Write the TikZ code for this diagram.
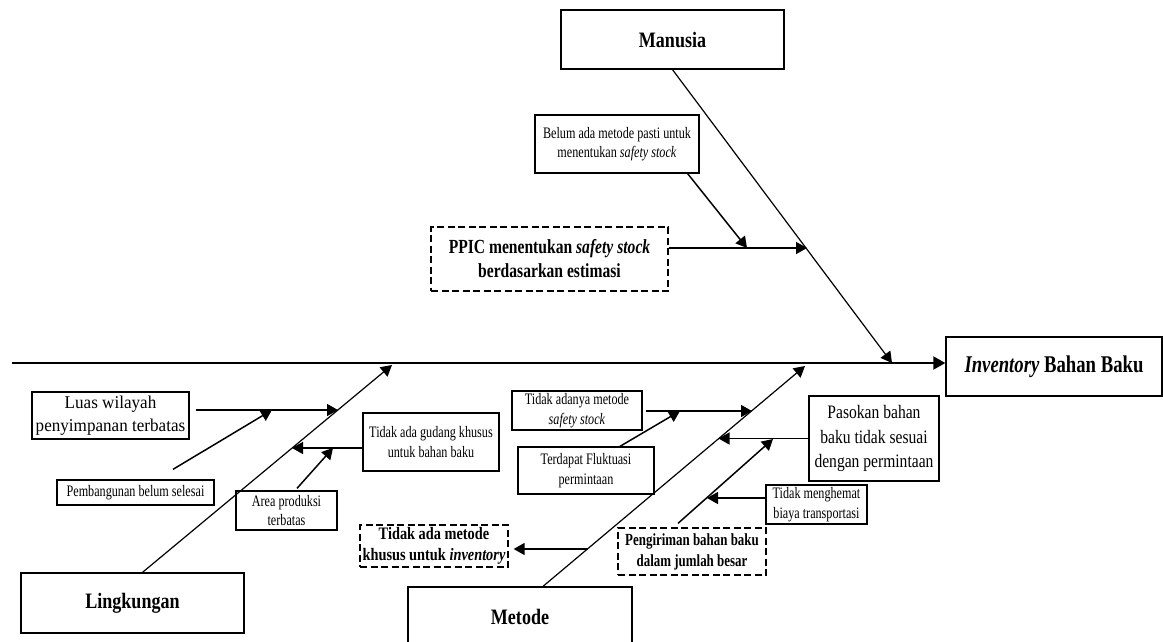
\documentclass[tikz,border=0pt]{standalone}
\usepackage{fontspec}
\setmainfont{Liberation Serif}
\newfontfamily\tnrA{Liberation Serif}[FakeStretch=0.76]
\newfontfamily\tnrB{Liberation Serif}[FakeStretch=0.82]
\newfontfamily\tnrC{Liberation Serif}[FakeStretch=0.95]
\newfontfamily\tnrD{Liberation Serif}[FakeStretch=0.78]
\usetikzlibrary{arrows.meta}
\begin{document}
\begin{tikzpicture}[x=1pt,y=-1pt,
  box/.style={draw,line width=1.3pt,inner sep=0pt,align=center},
  dbox/.style={box,dash pattern=on 7pt off 3.5pt},
  cat/.style={box,font=\tnrB\bfseries\fontsize{22}{26}\selectfont},
  small/.style={box,font=\tnrA\fontsize{16}{19.5}\selectfont},
  tip/.style={-{Triangle[length=11pt,width=12pt]}},
  bone/.style={line width=1.2pt,tip},
  arr/.style={line width=1.5pt,tip},
  spine/.style={line width=2pt,-{Triangle[length=12pt,width=13pt]}}]
\useasboundingbox (0,0) rectangle (1163,641);

% effect and main categories
\node[box,minimum width=216pt,minimum height=59pt,
      font=\tnrD\bfseries\fontsize{24}{28}\selectfont] (inv) at (1054,366.5) {\textit{Inventory} Bahan Baku};
\node[cat,minimum width=223pt,minimum height=59pt] (man) at (672.5,39.5) {Manusia};
\node[cat,minimum width=223pt,minimum height=60pt] (ling) at (132.5,603) {Lingkungan};
\node[cat,minimum width=224pt,minimum height=60pt] (met) at (520,617) {Metode};

% causes: Manusia
\node[small,minimum width=164pt,minimum height=58pt] (belum) at (617,144)
  {Belum ada metode pasti untuk\\menentukan \textit{safety stock}};
\node[dbox,minimum width=237pt,minimum height=64pt,
      font=\tnrD\bfseries\fontsize{20}{24}\selectfont] (ppic) at (549.5,259)
  {PPIC menentukan \textit{safety stock}\\berdasarkan estimasi};

% causes: Lingkungan
\node[box,minimum width=157pt,minimum height=47pt,
      font=\tnrC\fontsize{18}{23}\selectfont] (luas) at (110.5,415.5)
  {Luas wilayah\\penyimpanan terbatas};
\node[small,minimum width=157pt,minimum height=25pt] (pemb) at (135.5,492.5)
  {Pembangunan belum selesai};
\node[small,minimum width=136pt,minimum height=58pt] (gud) at (431,442)
  {Tidak ada gudang khusus\\untuk bahan baku};
\node[small,minimum width=101pt,minimum height=39pt] (area) at (286.5,510.5)
  {Area produksi\\terbatas};

% causes: Metode
\node[small,minimum width=130pt,minimum height=39pt] (adanya) at (577,410.5)
  {Tidak adanya metode\\\textit{safety stock}};
\node[small,minimum width=136pt,minimum height=47pt] (fluk) at (586,470.5)
  {Terdapat Fluktuasi\\permintaan};
\node[box,minimum width=130pt,minimum height=85pt,
      font=\tnrB\fontsize{19}{24.5}\selectfont] (pas) at (874,438.5)
  {Pasokan bahan\\baku tidak sesuai\\dengan permintaan};
\node[small,minimum width=101pt,minimum height=39pt] (hemat) at (816.5,504.5)
  {Tidak menghemat\\biaya transportasi};
\node[dbox,minimum width=148pt,minimum height=47pt,
      font=\tnrA\bfseries\fontsize{17}{21}\selectfont] (kirim) at (692,551.5)
  {Pengiriman bahan baku\\dalam jumlah besar};
\node[dbox,minimum width=148pt,minimum height=42pt,
      font=\tnrB\bfseries\fontsize{17.5}{21}\selectfont] (khusus) at (434,546)
  {Tidak ada metode\\khusus untuk \textit{inventory}};

% points where bones meet
\coordinate (s0) at (12,363);
\coordinate (m1) at (892,363);
\coordinate (m2) at (807,248);
\coordinate (m3) at (747,248);
\coordinate (l1) at (392,365);
\coordinate (l2) at (338,410);
\coordinate (l3) at (272,410);
\coordinate (l4) at (292,448);
\coordinate (l5) at (333,448);
\coordinate (k1) at (805,366);
\coordinate (k2) at (752,411);
\coordinate (k3) at (680,411);
\coordinate (k4) at (718.5,438.5);
\coordinate (k5) at (773,439);
\coordinate (k6) at (707,498);
\coordinate (k7) at (588,549);

% main spine
\draw[spine] (s0) -- (s0 -| inv.west);

% Manusia
\draw[bone] (man.south) -- (m1);
\draw[arr] ([yshift=11pt]ppic.east) -- (m2);
\draw[arr] ([xshift=-12pt]belum.south east) -- (m3);

% Lingkungan
\draw[bone] ([xshift=10pt]ling.north) -- (l1);
\draw[arr] ([xshift=6pt,yshift=5.5pt]luas.east) -- (l2);
\draw[arr] ([xshift=37.5pt,yshift=10pt]pemb.north) -- (l3);
\draw[arr] ([yshift=-6pt]gud.west) -- (l4);
\draw[arr] ([xshift=10.5pt,yshift=2pt]area.north) -- (l5);

% Metode
\draw[bone] ([xshift=23pt]met.north) -- (k1);
\draw[arr] ([xshift=3pt,yshift=-0.5pt]adanya.east) -- (k2);
\draw[arr] ([xshift=34pt]fluk.north) -- (k3);
\draw[arr] (pas.west) -- (k4);
\draw[arr] ([xshift=-14pt,yshift=4pt]kirim.north) -- (k5);
\draw[arr] ([yshift=6.5pt]hemat.west) -- (k6);
\draw[arr] (k7) -- ([xshift=5pt,yshift=-3pt]khusus.east);
\end{tikzpicture}
\end{document}
